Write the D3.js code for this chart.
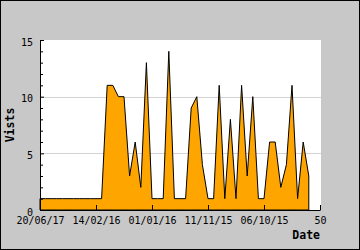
<!DOCTYPE html>
<html>
<head>
<meta charset="utf-8">
<script src="https://cdn.jsdelivr.net/npm/d3@7"></script>
<style>
    body { margin: 0; background: #fff; }
    svg { display: block; }
</style>
</head>
<body>
<svg id="chart" width="360" height="250"></svg>
<script>
// visits per point, newest first (index 0 = 20/06/17)
var visits = [ 1, 1, 1, 1, 1, 1, 1, 1, 1, 1, 1, 1,
    11, 11, 10, 10, 3, 6, 2, 13, 1, 1, 1, 14, 1, 1, 1, 9, 10, 4,
    1, 1, 11, 1, 8, 1, 11, 3, 10, 1, 1, 6, 6, 2, 4, 11, 1, 6, 3 ];

var tickIndex = [ 0, 10, 20, 30, 40, 50 ];
var tickLabels = [ "20/06/17", "14/02/16", "01/01/16", "11/11/15", "06/10/15", "50" ];
var yTicks = [ 0, 5, 10, 15 ];

(function () {
    var W = 360, H = 250;
    var left = 40, right = 320, top = 40, bottom = 210;
    var mono = "'DejaVu Sans Mono', monospace";

    var svg = d3.select( "#chart" );

    // grey frame with thin black border
    svg.append( "rect" )
        .attr( "x", 0.5 ).attr( "y", 0.5 )
        .attr( "width", W - 1 ).attr( "height", H - 1 )
        .attr( "fill", "#c8c8c8" )
        .attr( "stroke", "#000" );

    svg.append( "rect" )
        .attr( "x", left ).attr( "y", top )
        .attr( "width", right - left + 1 ).attr( "height", bottom - top )
        .attr( "fill", "#fff" );

    var x = d3.scaleLinear().domain( [ 0, 50 ] ).range( [ left, right ] );
    var y = d3.scaleLinear().domain( [ 0, 15 ] ).range( [ bottom, top ] );

    // horizontal grid, under the area
    svg.append( "g" ).selectAll( "line" )
        .data( yTicks.filter( function ( d ) { return d > 0 && d < 15 } ) )
        .enter().append( "line" )
        .attr( "x1", left ).attr( "x2", right + 1 )
        .attr( "y1", function ( d ) { return Math.round( y( d ) ) + 0.5 } )
        .attr( "y2", function ( d ) { return Math.round( y( d ) ) + 0.5 } )
        .attr( "stroke", "#d4d4d4" );

    var area = d3.area()
        .x( function ( d, i ) { return x( i ) } )
        .y0( y( 0 ) )
        .y1( function ( d ) { return y( d ) } );

    svg.append( "path" )
        .datum( visits )
        .attr( "d", area )
        .attr( "fill", "#ffa500" )
        .attr( "stroke", "#000" )
        .attr( "stroke-width", 1 )
        .attr( "stroke-linejoin", "miter" );

    // y axis: ticks inside, minor every unit
    var yAxis = d3.axisLeft( y )
        .tickValues( d3.range( 0, 16 ) )
        .tickSizeInner( -3 )
        .tickSizeOuter( 0 )
        .tickPadding( 7 )
        .tickFormat( function ( d ) { return d % 5 === 0 ? d : "" } );

    var gy = svg.append( "g" )
        .attr( "transform", "translate(" + left + ",0)" )
        .call( yAxis );
    gy.selectAll( ".tick line" )
        .attr( "x2", function ( d ) { return d % 5 === 0 ? 4 : 3 } );
    gy.selectAll( "text" ).attr( "dy", "0.5em" );

    var xAxis = d3.axisBottom( x )
        .tickValues( tickIndex )
        .tickSizeInner( -5 )
        .tickSizeOuter( 0 )
        .tickPadding( 7 )
        .tickFormat( function ( d, i ) { return tickLabels[ i ] } );

    svg.append( "g" )
        .attr( "transform", "translate(0," + bottom + ")" )
        .call( xAxis );

    svg.selectAll( ".tick text" )
        .attr( "font-family", mono )
        .attr( "font-size", 10 )
        .attr( "fill", "#000" );
    svg.selectAll( ".domain, .tick line" ).attr( "stroke", "#000" );

    svg.append( "text" )
        .attr( "x", right ).attr( "y", 239 )
        .attr( "text-anchor", "end" )
        .attr( "font-family", mono )
        .attr( "font-weight", "bold" )
        .attr( "font-size", 11.5 )
        .text( "Date" );

    svg.append( "text" )
        .attr( "transform", "translate(13.5," + ( ( top + bottom ) / 2 ) + ") rotate(-90)" )
        .attr( "text-anchor", "middle" )
        .attr( "font-family", mono )
        .attr( "font-weight", "bold" )
        .attr( "font-size", 11.5 )
        .text( "Vists" );
})();
</script>
</body>
</html>
